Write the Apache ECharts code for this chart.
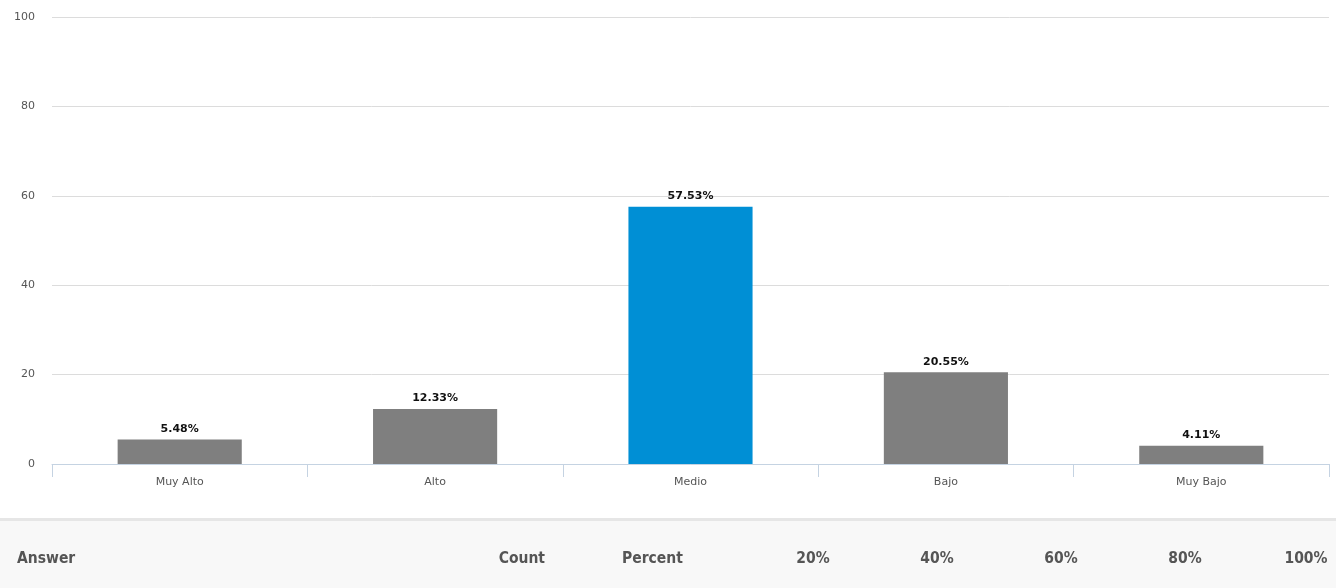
<!DOCTYPE html>
<html>
<head>
<meta charset="utf-8">
<script src="https://cdn.jsdelivr.net/npm/echarts@6/dist/echarts.min.js"></script>
<style>
  html, body { margin: 0; padding: 0; background: #fff; }
  #chart { width: 1336px; height: 588px; }
</style>
</head>
<body>
<div id="chart"></div>
<script>
// Survey answers and their share of responses (%)
const categories = ['Muy Alto', 'Alto', 'Medio', 'Bajo', 'Muy Bajo'];
const percents = [5.48, 12.33, 57.53, 20.55, 4.11];
const highlighted = 'Medio';
const yTicks = { min: 0, max: 100, interval: 20 };

// Column headers of the answer table below the chart
const tableHeaders = [
  { text: 'Answer', x: 17, align: 'left' },
  { text: 'Count', x: 545, align: 'right' },
  { text: 'Percent', x: 622, align: 'left' },
  { text: '20%', x: 813, align: 'center' },
  { text: '40%', x: 937, align: 'center' },
  { text: '60%', x: 1061, align: 'center' },
  { text: '80%', x: 1185, align: 'center' },
  { text: '100%', x: 1306, align: 'center' }
];

const chart = echarts.init(document.getElementById('chart'));

const barData = categories.map((c, i) => ({
  value: percents[i],
  itemStyle: { color: c === highlighted ? '#008fd5' : '#7f7f7f' }
}));

const labelFont = '"DejaVu Sans", Verdana, sans-serif';
const headerFont = 'bold 15.5px "DejaVu Sans Condensed", "Open Sans", sans-serif';

chart.setOption({
  animation: false,
  backgroundColor: '#ffffff',
  grid: { left: 52, right: 7, top: 17, bottom: 124, containLabel: false },
  xAxis: {
    type: 'category',
    data: categories,
    axisLine: { lineStyle: { color: '#c5d3e2', width: 1 } },
    axisTick: { show: true, length: 13, lineStyle: { color: '#c5d3e2' } },
    axisLabel: {
      color: '#555',
      fontSize: 11,
      fontFamily: labelFont,
      margin: 13
    }
  },
  yAxis: {
    type: 'value',
    min: yTicks.min,
    max: yTicks.max,
    interval: yTicks.interval,
    axisLine: { show: false },
    axisTick: { show: false },
    axisLabel: {
      color: '#555',
      fontSize: 11,
      fontFamily: labelFont,
      margin: 17
    },
    splitLine: { lineStyle: { color: '#dcdcdc', width: 1 } }
  },
  series: [{
    type: 'bar',
    data: barData,
    barWidth: '48.6%',
    label: {
      show: true,
      position: 'top',
      distance: 5,
      formatter: p => p.value.toFixed(2) + '%',
      color: '#111',
      fontSize: 11,
      fontWeight: 'bold',
      fontFamily: labelFont
    }
  }],
  graphic: [
    {
      type: 'rect',
      shape: { x: 0, y: 519, width: 1336, height: 69 },
      style: { fill: '#f8f8f8' },
      silent: true
    },
    {
      type: 'rect',
      shape: { x: 0, y: 518, width: 1336, height: 3 },
      style: { fill: '#e6e6e6' },
      silent: true
    }
  ].concat(tableHeaders.map(h => ({
    type: 'text',
    x: h.x,
    y: 559,
    style: {
      text: h.text,
      font: headerFont,
      fill: '#555',
      align: h.align,
      verticalAlign: 'middle'
    },
    silent: true
  })))
});
</script>
</body>
</html>
